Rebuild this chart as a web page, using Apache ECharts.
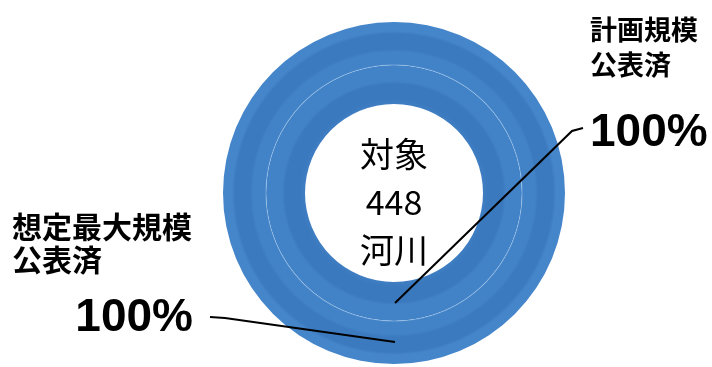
<!DOCTYPE html>
<html>
<head>
<meta charset="utf-8">
<script src="https://cdn.jsdelivr.net/npm/echarts@6/dist/echarts.min.js"></script>
<style>html,body{margin:0;padding:0;background:#fff;}#c{width:712px;height:367px;}</style>
</head>
<body>
<div id="c"></div>
<script>
// ---- data ----
const categories = ['計画規模公表済', '想定最大規模公表済'];
const labelLines = [['計画規模', '公表済'], ['想定最大規模', '公表済']];
const published = [448, 448];
const totalRivers = 448;
const centerLines = ['対象', String(totalRivers), '河川'];

// ---- layout ----
const cx = 394, cy = 193;
const R = 171;
const CJK = '"Noto Sans CJK JP", sans-serif';
const NUM = '"Liberation Sans", Arial, sans-serif';

function grad(stops) {
  return {
    type: 'radial', x: cx, y: cy, r: R, global: true,
    colorStops: stops.map(s => ({ offset: s[0] / R, color: s[1] }))
  };
}
const outerColor = grad([
  [0, '#4282C7'], [128, '#74A7DB'], [129, '#4282C7'], [141, '#4282C7'],
  [144, '#3C7ABF'], [159, '#3C7ABF'], [162, '#4585CA'], [171, '#4585CA']
]);
const innerColor = grad([
  [0, '#3F7EC3'], [89, '#3F7EC3'], [94, '#3B79BE'], [109, '#3B79BE'], [112, '#4282C7'],
  [127.2, '#4282C7'], [128, '#74A7DB'], [171, '#74A7DB']
]);

function fmt(i) {
  return function (p) {
    return labelLines[i].map(l => '{n|' + l + '}').join('\n') +
      '\n{p|' + Math.round(p.value / totalRivers * 100) + '%}';
  };
}

const chart = echarts.init(document.getElementById('c'), null, { renderer: 'canvas' });
chart.setOption({
  animation: false,
  backgroundColor: '#fff',
  graphic: [
    {
      type: 'text', x: cx, y: 202, silent: true, z: 20,
      style: {
        text: centerLines.join('\n'), fill: '#000', font: '34px ' + CJK,
        textAlign: 'center', textVerticalAlign: 'middle', lineHeight: 48
      }
    },
    {
      type: 'polyline', silent: true, z: 30,
      shape: { points: [[cx + 1, cy + 110], [572, 131], [583, 128]] },
      style: { stroke: '#000', lineWidth: 2, fill: null }
    },
    {
      type: 'polyline', silent: true, z: 30,
      shape: { points: [[cx + 1, cy + 149], [225, 318], [210, 317]] },
      style: { stroke: '#000', lineWidth: 2, fill: null }
    }
  ],
  series: [
    {
      type: 'pie', name: categories[0], silent: true,
      center: [cx, cy], radius: [89, 128], avoidLabelOverlap: false,
      itemStyle: { color: innerColor, borderWidth: 0 },
      label: {
        show: true, formatter: fmt(0), color: '#000',
        rich: {
          n: { fontSize: 27, fontWeight: 'bold', fontFamily: CJK, lineHeight: 35, color: '#000' },
          p: { fontSize: 46, fontWeight: 'bold', fontFamily: NUM, lineHeight: 103, color: '#000' }
        }
      },
      labelLine: { show: false },
      labelLayout: function () {
        return { x: 590, y: 12, align: 'left', verticalAlign: 'top' };
      },
      data: [{ value: published[0], name: categories[0] }]
    },
    {
      type: 'pie', name: categories[1], silent: true,
      center: [cx, cy], radius: [128, 171], avoidLabelOverlap: false,
      itemStyle: { color: outerColor, borderWidth: 0 },
      label: {
        show: true, formatter: fmt(1), color: '#000', width: 181,
        rich: {
          n: { fontSize: 30, fontWeight: 'bold', fontFamily: CJK, lineHeight: 33, color: '#000', align: 'left' },
          p: { fontSize: 46, fontWeight: 'bold', fontFamily: NUM, lineHeight: 85, color: '#000', align: 'right' }
        }
      },
      labelLine: { show: false },
      labelLayout: function () {
        return { x: 12, y: 210, align: 'left', verticalAlign: 'top' };
      },
      data: [{ value: published[1], name: categories[1] }]
    }
  ]
});
</script>
</body>
</html>
